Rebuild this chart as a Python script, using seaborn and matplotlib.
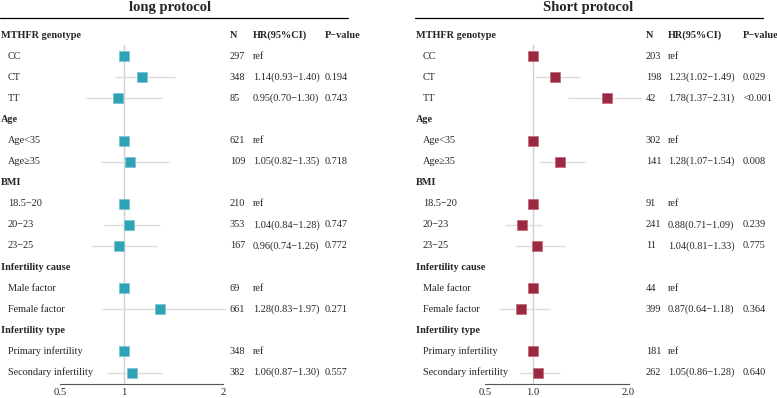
import numpy as np
import pandas as pd
import matplotlib
matplotlib.use("Agg")
import matplotlib.pyplot as plt
import matplotlib.transforms as mtrans
import seaborn as sns

sns.set_style("white")
plt.rcParams["font.family"] = ["Liberation Serif", "DejaVu Serif"]

# ---- data ----
labels = ["MTHFR genotype", "CC", "CT", "TT", "Age", "Age<35", "Age\u226535",
          "BMI", "18.5\u221220", "20\u221223", "23\u221225", "Infertility cause",
          "Male factor", "Female factor", "Infertility type",
          "Primary infertility", "Secondary infertility"]
is_header = [True, False, False, False, True, False, False, True, False, False,
             False, True, False, False, True, False, False]

long_n = ["", "297", "348", "85", "", "621", "109", "", "210", "353", "167",
          "", "69", "661", "", "348", "382"]
long_hr = [np.nan, 1, 1.14, 0.95, np.nan, 1, 1.05, np.nan, 1, 1.04, 0.96,
           np.nan, 1, 1.28, np.nan, 1, 1.06]
long_lo = [np.nan, np.nan, 0.93, 0.70, np.nan, np.nan, 0.82, np.nan, np.nan, 0.84, 0.74,
           np.nan, np.nan, 0.83, np.nan, np.nan, 0.87]
long_hi = [np.nan, np.nan, 1.40, 1.30, np.nan, np.nan, 1.35, np.nan, np.nan, 1.28, 1.26,
           np.nan, np.nan, 1.97, np.nan, np.nan, 1.30]
long_p = ["", "", "0.194", "0.743", "", "", "0.718", "", "", "0.747", "0.772",
          "", "", "0.271", "", "", "0.557"]

short_n = ["", "203", "198", "42", "", "302", "141", "", "91", "241", "11",
           "", "44", "399", "", "181", "262"]
short_hr = [np.nan, 1, 1.23, 1.78, np.nan, 1, 1.28, np.nan, 1, 0.88, 1.04,
            np.nan, 1, 0.87, np.nan, 1, 1.05]
short_lo = [np.nan, np.nan, 1.02, 1.37, np.nan, np.nan, 1.07, np.nan, np.nan, 0.71, 0.81,
            np.nan, np.nan, 0.64, np.nan, np.nan, 0.86]
short_hi = [np.nan, np.nan, 1.49, 2.31, np.nan, np.nan, 1.54, np.nan, np.nan, 1.09, 1.33,
            np.nan, np.nan, 1.18, np.nan, np.nan, 1.28]
short_p = ["", "", "0.029", "<0.001", "", "", "0.008", "", "", "0.239", "0.775",
           "", "", "0.364", "", "", "0.640"]


def hr_text(hr, lo, hi):
    if np.isnan(hr):
        return ""
    if np.isnan(lo):
        return "ref"
    return f"{hr:.2f}({lo:.2f}\u2212{hi:.2f})"


W, H = 777, 398
fig = plt.figure(figsize=(W / 100, H / 100), dpi=100)

y0, dy = 35.0, 21.1           # pixel y of first row, row spacing
top_px, bot_px = 45.0, 384.0  # forest axes vertical extent


def panel(title, hr, lo, hi, n, p, color, edge, ax_px, xlim, bounds, ticks, ticklabels,
          x_name, x_n, x_hr, x_p, line_px, title_x):
    left_px, right_px = ax_px
    ax = fig.add_axes([left_px / W, 1 - bot_px / H, (right_px - left_px) / W,
                       (bot_px - top_px) / H])
    ax.set_facecolor("none")
    df = pd.DataFrame({"row": range(len(labels)), "hr": hr, "lo": lo, "hi": hi})

    ax.axvline(1, color="#cfcfcf", lw=1, zorder=0)
    ci = df.dropna(subset=["lo"])
    ax.hlines(ci["row"], ci["lo"], ci["hi"], color="#dcdcdc", lw=1, zorder=1)
    pts = df.dropna(subset=["hr"])
    sns.scatterplot(data=pts, x="hr", y="row", marker="s", s=62, color=color,
                    edgecolor=edge, linewidth=0.6, ax=ax, legend=False, zorder=3)

    ax.set_xlim(*xlim)
    ax.set_ylim((bot_px - y0) / dy, (top_px - y0) / dy)
    for s in ["top", "left", "right"]:
        ax.spines[s].set_visible(False)
    ax.spines["bottom"].set_bounds(*bounds)
    ax.spines["bottom"].set_color("#555555")
    ax.spines["bottom"].set_linewidth(0.8)
    ax.set_yticks([])
    ax.set_xticks(ticks)
    ax.set_xticklabels(ticklabels, fontsize=7.6)
    ax.tick_params(axis="x", length=2, width=0.8, color="#555555", pad=0.8)
    ax.set_xlabel("")
    ax.set_ylabel("")

    tr = mtrans.blended_transform_factory(fig.transFigure, ax.transData)
    fs = 7.4
    for i, lab in enumerate(labels):
        if is_header[i]:
            ax.text(x_name / W, i, lab, transform=tr, fontsize=fs, weight="bold",
                    va="center", ha="left")
        else:
            ax.text((x_name + 7) / W, i, lab, transform=tr, fontsize=fs,
                    va="center", ha="left")
        ax.text(x_n / W, i, n[i], transform=tr, fontsize=fs, va="center", ha="left")
        ax.text(x_hr / W, i, hr_text(hr[i], lo[i], hi[i]), transform=tr, fontsize=fs,
                va="center", ha="left")
        ax.text(x_p / W, i, p[i], transform=tr, fontsize=fs, va="center", ha="left")
    for x, h in [(x_n, "N"), (x_hr, "HR(95%CI)"), (x_p, "P\u2212value")]:
        ax.text(x / W, 0, h, transform=tr, fontsize=fs, weight="bold",
                va="center", ha="left")

    fig.text(title_x / W, 1 - 8 / H, title, fontsize=10.5, weight="bold",
             ha="center", va="center")
    fig.add_artist(plt.Line2D([line_px[0] / W, line_px[1] / W],
                              [1 - 18 / H, 1 - 18 / H], color="black", lw=0.9))
    return ax


# left panel: 128 px per unit, 1 at x=124
panel("long protocol", long_hr, long_lo, long_hi, long_n, long_p,
      "#2ea3b5", "#7cc6d1", (124 - 0.6 * 128, 124 + 0.80 * 128), (0.4, 1.80),
      (0.5, 1.773), [0.5, 1, 1.773], ["0.5", "1", "2"],
      1, 230, 253, 325, (0, 348), 170)

# right panel: 95.5 px per unit, 1 at x=533
panel("Short protocol", short_hr, short_lo, short_hi, short_n, short_p,
      "#9b2a40", "#c0707e", (533 - 0.6 * 95.5, 533 + 1.145 * 95.5), (0.4, 2.145),
      (0.5, 2.0), [0.5, 1.0, 2.0], ["0.5", "1.0", "2.0"],
      416, 646, 668, 743, (415, 763), 588)

fig.savefig("out.png", dpi=100)
